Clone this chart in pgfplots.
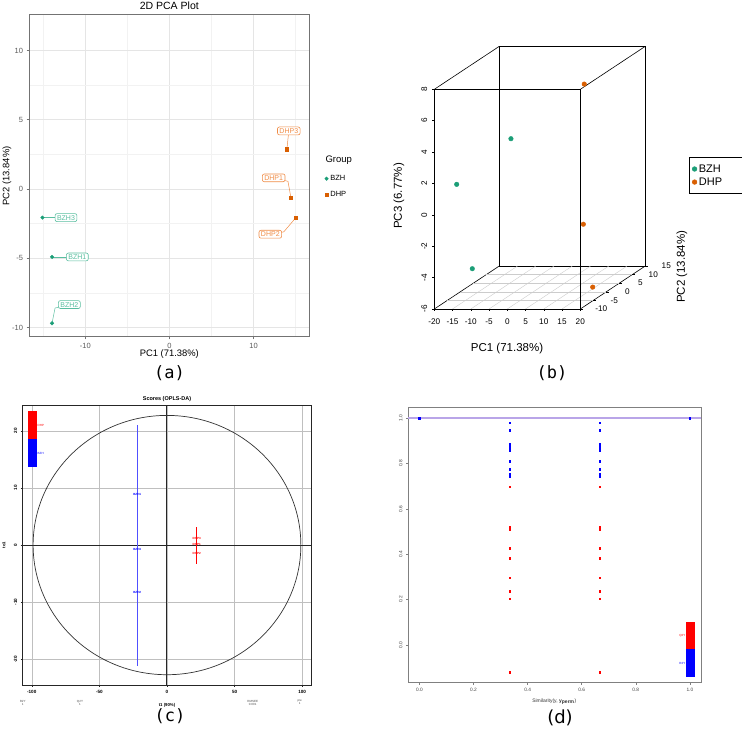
\documentclass[border=0pt]{standalone}
\usepackage{pgfplots}
\pgfplotsset{compat=1.18}
\usepackage{fontspec}
\setmainfont{Liberation Sans}
\newfontfamily\dvmono{DejaVu Sans Mono}
\newfontfamily\dvsans{DejaVu Sans}
\definecolor{bzh}{RGB}{27,158,119}
\definecolor{dhp}{RGB}{217,95,2}
\definecolor{bzhl}{RGB}{90,190,160}
\definecolor{dhpl}{RGB}{240,140,70}
\definecolor{lav}{RGB}{185,165,232}
\definecolor{pblue}{RGB}{0,0,255}
\definecolor{lblue}{RGB}{80,80,255}
\definecolor{pred}{RGB}{255,0,0}
\newcommand{\fs}[1]{\fontsize{#1}{#1}\selectfont}
\begin{document}
\begin{tikzpicture}
\useasboundingbox (0pt,0pt) rectangle (742pt,734pt);
% ================= (a) =================
\begin{axis}[
 at={(29pt,397pt)}, anchor=south west, scale only axis, width=280pt, height=322pt,
 xmin=-16.7, xmax=16.6, ymin=-10.69, ymax=12.56,
 xtick={-10,0,10}, ytick={-10,-5,0,5,10},
 minor xtick={-15,-5,5,15}, minor ytick={-7.5,-2.5,2.5,7.5},
 grid=both, major grid style={black!10, line width=0.6pt}, minor grid style={black!5, line width=0.4pt},
 axis line style={black!55, line width=1pt},
 tick align=outside, xtick pos=bottom, ytick pos=left, major tick length=2.5pt, minor tick length=0pt,
 tick style={black!55, line width=0.6pt},
 ticklabel style={font=\fs{7.5}, text=black!65},
 /pgf/number format/assume math mode=true,
 clip=false,
 legend style={at={(1.045,0.515)}, anchor=north west, draw=none, fill=none, font=\fs{7.5}, row sep=5pt},
 legend cell align=left,
]
\addplot[bzhl, line width=0.5pt, forget plot] coordinates {(-15.1,-2.07) (-12.3,-2.07)};
\addplot[bzhl, line width=0.5pt, forget plot] coordinates {(-13.96,-4.91) (-10.95,-4.91)};
\addplot[bzhl, line width=0.5pt, forget plot] coordinates {(-13.96,-9.7) (-13.6,-8.6) (-11.9,-8.35)};
\addplot[dhpl, line width=0.5pt, forget plot] coordinates {(13.97,2.87) (14.2,4.19)};
\addplot[dhpl, line width=0.5pt, forget plot] coordinates {(14.45,-0.63) (14.1,0.55) (12.4,0.8)};
\addplot[dhpl, line width=0.5pt, forget plot] coordinates {(15.04,-2.07) (13.6,-3.1) (12.0,-3.27)};
\addplot[only marks, mark=*, mark size=1.8pt, bzh] coordinates {(-15.1,-2.07) (-13.96,-4.91) (-13.96,-9.7)};
\addlegendentry{BZH}
\addplot[only marks, mark=square*, mark size=1.6pt, dhp] coordinates {(13.97,2.87) (14.45,-0.63) (15.04,-2.07)};
\addlegendentry{DHP}
\tikzset{lab/.style={draw=#1, text=#1, fill=white, rounded corners=2pt, font=\fs{7}, inner xsep=2pt, inner ysep=1.5pt, line width=0.6pt}}
\node[lab=bzhl] at (axis cs:-12.3,-2.07) {BZH3};
\node[lab=bzhl] at (axis cs:-10.95,-4.91) {BZH1};
\node[lab=bzhl] at (axis cs:-11.9,-8.35) {BZH2};
\node[lab=dhpl] at (axis cs:14.2,4.19) {DHP3};
\node[lab=dhpl] at (axis cs:12.4,0.8) {DHP1};
\node[lab=dhpl] at (axis cs:12.0,-3.27) {DHP2};
\end{axis}
\node[font=\fs{10.5}] at (169.3pt,728.5pt) {2D PCA Plot};
\node[font=\fs{9.4}] at (169.3pt,379.5pt) {PC1 (71.38\%)};
\node[font=\fs{9.4}, rotate=90] at (7pt,558pt) {PC2 (13.84\%)};
\node[font=\fs{9.5}, anchor=west] at (322pt,574pt) {Group};
% ================= (b) =================
\begin{axis}[
 at={(434.3pt,425pt)}, anchor=south west,
 x={(3.65pt,0pt)}, y={(2.6pt,1.72pt)}, z={(0pt,15.69pt)},
 xmin=-20, xmax=20, ymin=-10, ymax=15, zmin=-6, zmax=8,
 3d box=complete, axis line style={black, line width=0.6pt},
 xtick=\empty, ytick=\empty, ztick=\empty,
 clip=false,
 legend style={at={(1.207,0.578)}, anchor=north west, draw=black, line width=0.6pt, font=\fs{11}, row sep=0pt, inner xsep=3pt, inner ysep=5pt,
   nodes={text width=42pt}},
 legend cell align=left,
]
\pgfplotsinvokeforeach{-15,-10,...,15}{
  \draw[black!20, line width=0.4pt] (axis cs:#1,-10,-6) -- (axis cs:#1,15,-6);
}
\pgfplotsinvokeforeach{-5,0,5,10}{
  \draw[black!20, line width=0.4pt] (axis cs:-20,#1,-6) -- (axis cs:20,#1,-6);
}
\pgfplotsinvokeforeach{-20,-15,...,20}{
  \draw[black, line width=0.5pt] (axis cs:#1,-10,-6) -- ++(0pt,-2.5pt);
  \node[font=\fs{8.2}] at ([yshift=-12.7pt]axis cs:#1,-10,-6) {#1};
}
\pgfplotsinvokeforeach{-6,-4,...,8}{
  \draw[black, line width=0.5pt] (axis cs:-20,-10,#1) -- ++(-2.5pt,0pt);
  \node[font=\fs{8.2}, rotate=90] at ([xshift=-10pt]axis cs:-20,-10,#1) {#1};
}
\pgfplotsinvokeforeach{-10,-5,...,15}{
  \draw[black, line width=0.5pt] (axis cs:20,#1,-6) -- ++(2.5pt,0pt);
  \node[font=\fs{8.2}] at ([xshift=21pt]axis cs:20,#1,-6) {#1};
}
\addplot3[only marks, mark=*, mark size=2.3pt, bzh] coordinates {(-15.1,-2.27,-4.28) (-13.96,-9.87,1.93) (-13.96,11.0,2.55)};
\addlegendentry{BZH}
\addplot3[only marks, mark=*, mark size=2.3pt, dhp] coordinates {(14.1,-0.2,7.26) (14.45,-1.04,-1.58) (15.04,1.73,-5.89)};
\addlegendentry{DHP}
\end{axis}
\node[font=\fs{11.5}] at (507pt,385.7pt) {PC1 (71.38\%)};
\node[font=\fs{11.5}, rotate=90] at (399pt,538pt) {PC3 (6.77\%)};
\node[font=\fs{11.5}, rotate=90] at (682pt,467.3pt) {PC2 (13.84\%)};
% ================= (c) =================
\begin{axis}[
 at={(22.7pt,49pt)}, anchor=south west, scale only axis, width=288.3pt, height=279.3pt,
 xmin=-106.7, xmax=106.5, ymin=-24.5, ymax=24.4,
 xtick={-100,-50,0,50,100}, ytick={-20,-10,0,10,20},
 grid=major, major grid style={black!25, line width=0.5pt},
 axis line style={black!85, line width=0.9pt},
 tick align=outside, xtick pos=bottom, ytick pos=left, major tick length=2pt,
 tick style={black!85, line width=0.5pt},
 ticklabel style={font=\fs{4.6}\bfseries},
 yticklabel style={rotate=90},
 /pgf/number format/assume math mode=true,
 clip=false,
]
\draw[black!85, line width=1pt] (axis cs:0,-24.5) -- (axis cs:0,24.4);
\draw[black!85, line width=1pt] (axis cs:-106.7,0) -- (axis cs:106.5,0);
\draw[black!80, line width=0.7pt] (axis cs:0,0) ellipse [x radius=99, y radius=22.7];
\addplot[draw=lblue, no marks, line width=1.1pt] coordinates {(-22,-21.1) (-22,21.1)};
\addplot[draw=pred, no marks, line width=0.9pt] coordinates {(22,-3.3) (22,3.2)};
\node[pblue, font=\fs{3}\bfseries] at (axis cs:-22,8.9) {BZH1};
\node[pblue, font=\fs{3}\bfseries] at (axis cs:-22,-0.7) {BZH3};
\node[pblue, font=\fs{3}\bfseries] at (axis cs:-22,-8.3) {BZH2};
\node[pred, font=\fs{3}\bfseries] at (axis cs:22,1.17) {DHP3};
\node[pred, font=\fs{3}\bfseries] at (axis cs:22,0.18) {DHP1};
\node[pred, font=\fs{3}\bfseries] at (axis cs:22,-1.45) {DHP2};
\end{axis}
\fill[pred] (28.3pt,295pt) rectangle (37pt,323pt);
\fill[pblue] (28.3pt,266.7pt) rectangle (37pt,295pt);
\node[pred, font=\fs{3}, anchor=west, inner sep=0.5pt] at (37pt,309pt) {DHP};
\node[pblue, font=\fs{3}, anchor=west, inner sep=0.5pt] at (37pt,281pt) {BZH};
\node[font=\fs{5.5}\bfseries] at (167pt,335.3pt) {Scores (OPLS-DA)};
\node[font=\fs{4.3}\bfseries] at (167pt,28.7pt) {t1 (90\%)};
\node[font=\fs{4.3}\bfseries, rotate=90] at (4pt,189pt) {to1};
\node[font=\fs{3}, align=center, text=black!70] at (22.7pt,31.5pt) {R2Y\\1};
\node[font=\fs{3}, align=center, text=black!70] at (80pt,31.5pt) {Q2Y\\1};
\node[font=\fs{3}, align=center, text=black!70] at (252.7pt,31.5pt) {RMSEE\\0.001};
\node[font=\fs{3}, align=center, text=black!70] at (299.7pt,31.5pt) {pre\\1};
% ================= (d) =================
\begin{axis}[
 at={(408pt,51.3pt)}, anchor=south west, scale only axis, width=293pt, height=275.4pt,
 xmin=-0.042, xmax=1.041, ymin=-0.166, ymax=1.047,
 xtick={0,0.2,0.4,0.6,0.8,1.0}, ytick={0,0.2,0.4,0.6,0.8,1.0},
 axis line style={black!50, line width=0.9pt},
 tick align=outside, xtick pos=bottom, ytick pos=left, major tick length=2pt,
 tick style={black!50, line width=0.5pt},
 ticklabel style={font=\fs{4.8}, text=black!75},
 /pgf/number format/fixed, /pgf/number format/fixed zerofill, /pgf/number format/precision=1,
 yticklabel style={rotate=90},
 /pgf/number format/assume math mode=true,
 clip=false,
]
\addplot[draw=lav, no marks, line width=1.3pt] coordinates {(-0.042,1) (1.041,1)};
\addplot[only marks, mark=square*, mark size=0.75pt, pblue] coordinates {
 (0,1) (1,1)
 (0.333,0.979) (0.333,0.946) (0.333,0.885) (0.333,0.871) (0.333,0.859) (0.333,0.809) (0.333,0.774) (0.333,0.755) (0.333,0.743)
 (0.667,0.979) (0.667,0.946) (0.667,0.885) (0.667,0.871) (0.667,0.859) (0.667,0.809) (0.667,0.774) (0.667,0.755) (0.667,0.743)
};
\addplot[only marks, mark=square*, mark size=0.75pt, pred] coordinates {
 (0.333,0.697) (0.333,0.520) (0.333,0.511) (0.333,0.426) (0.333,0.383) (0.333,0.296) (0.333,0.238) (0.333,0.204) (0.333,-0.120)
 (0.667,0.697) (0.667,0.520) (0.667,0.511) (0.667,0.426) (0.667,0.383) (0.667,0.296) (0.667,0.238) (0.667,0.204) (0.667,-0.120)
};
\end{axis}
\fill[pred] (686.3pt,85pt) rectangle (695.3pt,112pt);
\fill[pblue] (686.3pt,57pt) rectangle (695.3pt,85pt);
\node[pred, font=\fs{3}, anchor=east, inner sep=0.5pt] at (686pt,98.3pt) {Q2Y};
\node[pblue, font=\fs{3}, anchor=east, inner sep=0.5pt] at (686pt,71pt) {R2Y};
\node[font=\fs{5}, text=black!80] at (554.3pt,32.3pt) {Similarity(y, \textbf{y\textsubscript{perm}})};
% ================= panel labels =================
\node[font=\dvmono\fs{17}] at (169.5pt,361pt) {(a)};
\node[font=\dvmono\fs{17}] at (552pt,361pt) {(b)};
\node[font=\dvmono\fs{17}] at (170pt,18pt) {(c)};
\node[font=\dvsans\fs{18}] at (560pt,16pt) {(d)};
\end{tikzpicture}
\end{document}
